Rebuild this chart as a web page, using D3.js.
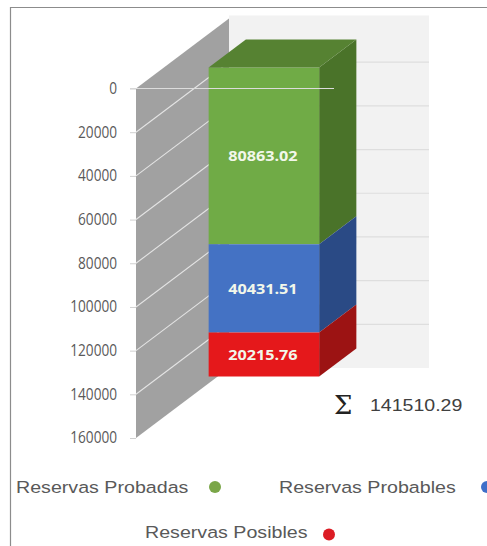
<!DOCTYPE html>
<html>
<head>
<meta charset="utf-8">
<script src="https://cdn.jsdelivr.net/npm/d3@7"></script>
<style>
html,body{margin:0;padding:0;background:#fff;overflow:hidden}
svg{display:block}
</style>
</head>
<body>
<svg id="chart" width="487" height="546"></svg>
<script>
// Reserve categories, stacked from the top of the inverted axis downward
const categories = ["Reservas"];
const seriesNames = ["Reservas Probadas", "Reservas Probables", "Reservas Posibles"];
const seriesValues = [80863.02, 40431.51, 20215.76];
const totalLabel = "141510.29";
const tickValues = [0, 20000, 40000, 60000, 80000, 100000, 120000, 140000, 160000];
const frontColors = ["#70ab46", "#4472c4", "#e5181b"];
const topColor = "#568232";
const sideColors = ["#4a7329", "#2a4a85", "#9c1313"];
const legendColors = ["#7aa648", "#3e6fc9", "#dc1c24"];

const svg = d3.select("#chart");

// Oblique projection: depth d runs from the front plane (0) to the back wall (1)
const depthX = 93, depthY = -70;
const y = d3.scaleLinear().domain([0, 160000]).range([88.5, 438]);
const x = d3.scaleBand().domain(categories).range([0, 200]).paddingInner(0).paddingOuter(0.405);
const originX = 136;
const project = (u, v, d) => [originX + u + depthX * d, y(v) + depthY * d];
const poly = pts => pts.map(p => p.join(",")).join(" ");

// Frame
svg.append("path").attr("d", "M10.5,546V7.5H487").attr("fill", "none").attr("stroke", "#8c8c8c").attr("stroke-width", 1.2);

// Back wall with its gridlines
const [top0, bottom0] = y.domain();
const wallTop = project(0, top0, 1)[1] - 3;
svg.append("polygon").attr("points", poly([[project(0, top0, 1)[0], wallTop], [project(200, top0, 1)[0], wallTop], project(200, bottom0, 1), project(0, bottom0, 1)])).attr("fill", "#f2f2f2");
svg.append("g").selectAll("line").data(tickValues.slice(1, -1)).join("line")
  .attr("x1", v => project(0, v, 1)[0]).attr("x2", v => project(200, v, 1)[0])
  .attr("y1", v => project(0, v, 1)[1]).attr("y2", v => project(200, v, 1)[1])
  .attr("stroke", "#dedede").attr("stroke-width", 1.2);

// Side wall with its gridlines
svg.append("polygon").attr("points", poly([project(0, top0, 0), project(0, top0, 1), project(0, bottom0, 1), project(0, bottom0, 0)])).attr("fill", "#a1a1a1");
svg.append("g").selectAll("line").data(tickValues.slice(1, -1)).join("line")
  .attr("x1", v => project(0, v, 0)[0]).attr("x2", v => project(0, v, 1)[0])
  .attr("y1", v => project(0, v, 0)[1]).attr("y2", v => project(0, v, 1)[1])
  .attr("stroke", "#e4e4e4").attr("stroke-width", 1.1);

// Stacked column
const stack = d3.stack().keys(seriesNames.map((_, i) => i)).value((row, k) => row[k])([seriesValues]);
const d0 = 0.3, d1 = 0.7;
const uL = x(categories[0]), uR = uL + x.bandwidth();
const bar = svg.append("g");
stack.forEach((layer, i) => {
  const [a, b] = layer[0];
  bar.append("polygon").attr("points", poly([project(uR, a, d0), project(uR, a, d1), project(uR, b, d1), project(uR, b, d0)])).attr("fill", sideColors[i]);
  bar.append("polygon").attr("points", poly([project(uL, a, d0), project(uR, a, d0), project(uR, b, d0), project(uL, b, d0)])).attr("fill", frontColors[i]);
  const c = project((uL + uR) / 2, (a + b) / 2, d0);
  bar.append("text").attr("text-anchor", "middle")
    .attr("transform", `translate(${c[0] - 1},${c[1] + 5.5}) scale(1.08,1)`)
    .attr("font-family", "Open Sans").attr("font-weight", 700).attr("font-size", 15).attr("fill", "#f2f7ea")
    .text(seriesValues[i].toFixed(2));
});
bar.append("polygon").attr("points", poly([project(uL, 0, d0), project(uR, 0, d0), project(uR, 0, d1), project(uL, 0, d1)])).attr("fill", topColor);

// Zero baseline drawn across the front plane, over the column
svg.append("line").attr("x1", originX - 6).attr("x2", originX + 198).attr("y1", y(0)).attr("y2", y(0)).attr("stroke", "#dcdcdc").attr("stroke-width", 1.2);

// Value axis
const axis = svg.append("g").attr("transform", `translate(${originX},0)`)
  .call(d3.axisLeft(y).tickValues(tickValues).tickSize(6).tickFormat(d3.format("d")));
axis.select(".domain").remove();
axis.selectAll(".tick line").attr("stroke", "#d0d0d0");
axis.selectAll("text").attr("x", 0).attr("transform", "translate(-19,0) scale(0.88,1)")
  .attr("font-family", "Open Sans").attr("font-size", 15.5).attr("fill", "#595959");

// Total
svg.append("text").attr("x", 334).attr("y", 414).attr("font-family", "DejaVu Serif").attr("font-size", 26).attr("fill", "#222").text("\u03A3");
svg.append("text").attr("transform", "translate(370,411) scale(1.15,1)").attr("font-family", "Liberation Sans").attr("font-size", 17).attr("fill", "#404040").text(totalLabel);

// Legend
const legendX = [16, 279, 145], legendY = [493, 493, 538], markerX = [215, 487, 329], markerY = [487, 487, 534.5];
const legend = svg.append("g").selectAll("g").data(seriesNames).join("g");
legend.append("text").attr("transform", (_, i) => `translate(${legendX[i]},${legendY[i]}) scale(1.155,1)`)
  .attr("font-family", "Liberation Sans").attr("font-size", 17).attr("fill", "#595959").text(d => d);
legend.append("circle").attr("cx", (_, i) => markerX[i]).attr("cy", (_, i) => markerY[i]).attr("r", 6)
  .attr("fill", (_, i) => legendColors[i]);
</script>
</body>
</html>
